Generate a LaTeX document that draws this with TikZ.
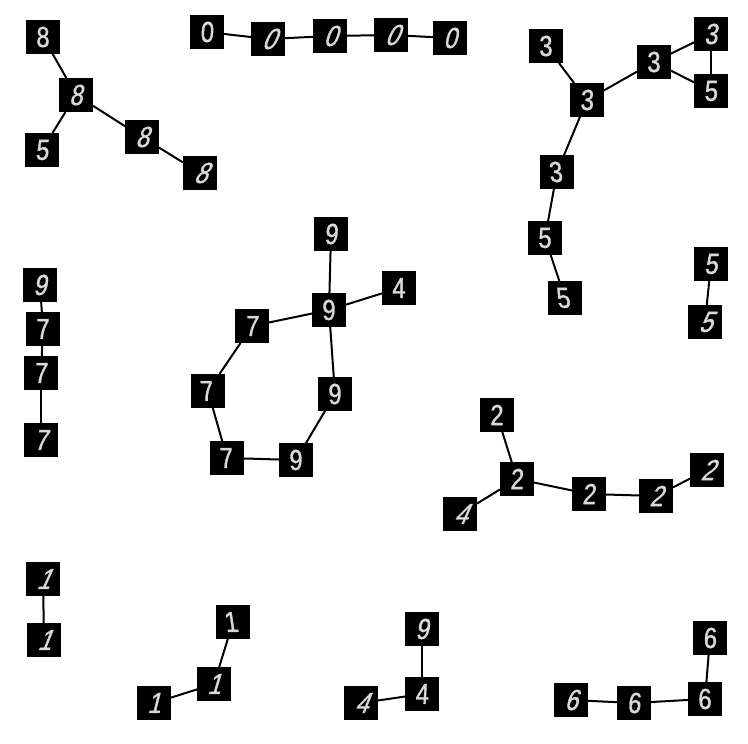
\documentclass[tikz,border=0pt]{standalone}
\usepackage{fontspec}
\setmainfont{Liberation Sans}[FakeStretch=0.82,FakeBold=1.2]
\newcommand{\dg}[2]{{\addfontfeatures{FakeSlant=#1}#2}}
\tikzset{
  digit/.style={rectangle,fill=black,draw=none,text=black!15,minimum size=34pt,inner sep=0pt,outer sep=0pt,font=\fontsize{29}{29}\selectfont},
  link/.style={draw=black,line width=2pt}
}
\begin{document}
\begin{tikzpicture}[x=1pt,y=-1pt]
\useasboundingbox (0,0) rectangle (748,744);
% eights
\node[digit] (a1) at (43,37) {\dg{0}{8}};
\node[digit] (a2) at (76,95) {\dg{0.2}{8}};
\node[digit] (a3) at (42,150) {\dg{0.1}{5}};
\node[digit] (a4) at (142,137) {\dg{0.3}{8}};
\node[digit] (a5) at (200,173) {\dg{0.45}{8}};
\draw[link] (a1) -- (a2); \draw[link] (a2) -- (a3); \draw[link] (a2) -- (a4); \draw[link] (a4) -- (a5);
% zeros
\node[digit] (b1) at (207,32) {\dg{0.05}{0}};
\node[digit] (b2) at (268,39) {\dg{0.45}{0}};
\node[digit] (b3) at (330,36) {\dg{0.35}{0}};
\node[digit] (b4) at (391,35) {\dg{0.45}{0}};
\node[digit] (b5) at (450,38) {\dg{0.25}{0}};
\draw[link] (b1) -- (b2); \draw[link] (b2) -- (b3); \draw[link] (b3) -- (b4); \draw[link] (b4) -- (b5);
% threes
\node[digit] (c1) at (546,46) {\dg{0}{3}};
\node[digit] (c2) at (587,100) {\dg{0.05}{3}};
\node[digit] (c3) at (654,62) {\dg{0}{3}};
\node[digit] (c4) at (711,34) {\dg{0.15}{3}};
\node[digit] (c5) at (711,91) {\dg{0.05}{5}};
\node[digit] (c6) at (557,172) {\dg{-0.1}{3}};
\node[digit] (c7) at (545,238) {\dg{0}{5}};
\node[digit] (c8) at (565,298) {\dg{-0.15}{5}};
\draw[link] (c1) -- (c2); \draw[link] (c2) -- (c3); \draw[link] (c3) -- (c4); \draw[link] (c3) -- (c5); \draw[link] (c4) -- (c5); \draw[link] (c2) -- (c6); \draw[link] (c6) -- (c7); \draw[link] (c7) -- (c8);
% fives
\node[digit] (d1) at (711,264) {\dg{0.15}{5}};
\node[digit] (d2) at (705,322) {\dg{0.4}{5}};
\draw[link] (d1) -- (d2);
% left column
\node[digit] (e1) at (40,285) {\dg{0.2}{9}};
\node[digit] (e2) at (43,329) {\dg{0}{7}};
\node[digit] (e3) at (41,373) {\dg{0.05}{7}};
\node[digit] (e4) at (41,440) {\dg{0.2}{7}};
\draw[link] (e1) -- (e2); \draw[link] (e2) -- (e3); \draw[link] (e3) -- (e4);
% middle ring
\node[digit] (f1) at (331,234) {\dg{0.1}{9}};
\node[digit] (f2) at (329,310) {\dg{0}{9}};
\node[digit] (f3) at (399,288) {\dg{0}{4}};
\node[digit] (f4) at (252,326) {\dg{0.05}{7}};
\node[digit] (f5) at (208,391) {\dg{-0.1}{7}};
\node[digit] (f6) at (227,458) {\dg{-0.05}{7}};
\node[digit] (f7) at (296,460) {\dg{0}{9}};
\node[digit] (f8) at (335,394) {\dg{0}{9}};
\draw[link] (f1) -- (f2); \draw[link] (f2) -- (f3); \draw[link] (f2) -- (f4); \draw[link] (f4) -- (f5); \draw[link] (f5) -- (f6); \draw[link] (f6) -- (f7); \draw[link] (f7) -- (f8); \draw[link] (f8) -- (f2);
% twos
\node[digit] (g1) at (497,415) {\dg{0}{2}};
\node[digit] (g2) at (517,479) {\dg{0.05}{2}};
\node[digit] (g3) at (460,514) {\dg{0.45}{4}};
\node[digit] (g4) at (589,494) {\dg{0.1}{2}};
\node[digit] (g5) at (656,496) {\dg{0.3}{2}};
\node[digit] (g6) at (707,470) {\dg{0.4}{2}};
\draw[link] (g1) -- (g2); \draw[link] (g2) -- (g3); \draw[link] (g2) -- (g4); \draw[link] (g4) -- (g5); \draw[link] (g5) -- (g6);
% ones
\node[digit] (h1) at (43,579) {\dg{0.45}{1}};
\node[digit] (h2) at (44,640) {\dg{0.4}{1}};
\draw[link] (h1) -- (h2);
\node[digit] (i1) at (233,622) {\dg{-0.15}{1}};
\node[digit] (i2) at (214,684) {\dg{0.3}{1}};
\node[digit] (i3) at (154,703) {\dg{0.25}{1}};
\draw[link] (i1) -- (i2); \draw[link] (i2) -- (i3);
% nine and fours
\node[digit] (j1) at (422,629) {\dg{0.2}{9}};
\node[digit] (j2) at (422,694) {\dg{0.05}{4}};
\node[digit] (j3) at (361,703) {\dg{0.4}{4}};
\draw[link] (j1) -- (j2); \draw[link] (j2) -- (j3);
% sixes
\node[digit] (k1) at (710,638) {\dg{0.05}{6}};
\node[digit] (k2) at (705,699) {\dg{0}{6}};
\node[digit] (k3) at (634,703) {\dg{0.1}{6}};
\node[digit] (k4) at (571,700) {\dg{0.3}{6}};
\draw[link] (k1) -- (k2); \draw[link] (k2) -- (k3); \draw[link] (k3) -- (k4);
\end{tikzpicture}
\end{document}
